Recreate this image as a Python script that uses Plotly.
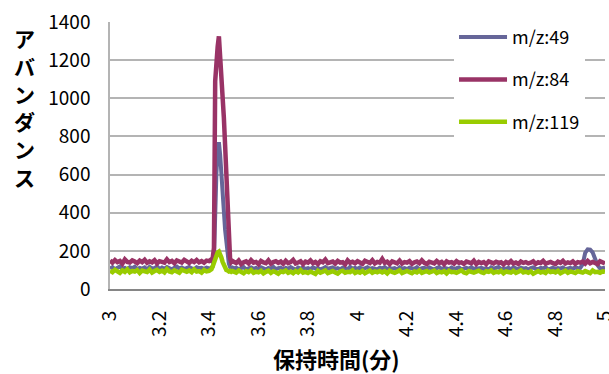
import numpy as np
import plotly.graph_objects as go

# Sampling grid: 0.01 min steps, refined to 0.005 min across the 3.4-3.5 min peak
time_min = np.round(np.concatenate([
    np.arange(3.00, 3.40 - 1e-9, 0.01),
    np.arange(3.40, 3.50 - 1e-9, 0.005),
    np.arange(3.50, 5.00 + 1e-9, 0.01),
]), 3)

series_names = ["m/z:49", "m/z:84", "m/z:119"]
series_colors = ["#666699", "#993366", "#99CC00"]

# m/z 49 abundance
mz49 = [
    108, 115, 104, 112, 118, 106, 110, 103, 114, 109, 117, 105, 111, 107, 113, 102, 116, 108, 110, 119,
    104, 112, 106, 115, 109, 103, 111, 117, 107, 113, 105, 110, 116, 108, 102, 114, 109, 111, 106, 112,
    # 3.400 - 3.495
    110, 107, 113, 118, 160, 420, 610, 715, 770, 705, 625, 525, 410, 310, 235, 175, 135, 115, 109, 112,
    # 3.50 - 5.00
    108, 112, 104, 110, 115, 103, 109, 113, 106, 111,
    105, 114, 108, 102, 111, 107, 116, 104, 109, 112,
    103, 110, 106, 115, 108, 101, 112, 107, 113, 105,
    109, 104, 114, 107, 111, 102, 108, 115, 106, 110,
    113, 105, 109, 103, 112, 108, 104, 116, 107, 111,
    106, 113, 102, 109, 114, 105, 110, 107, 103, 112,
    108, 115, 104, 111, 106, 109, 102, 113, 107, 110,
    104, 112, 108, 105, 114, 103, 109, 111, 106, 113,
    107, 102, 110, 115, 105, 111, 108, 104, 112, 106,
    109, 113, 103, 108, 111, 106, 114, 104, 110, 107,
    112, 105, 109, 102, 113, 107, 110, 115, 104, 108,
    106, 111, 103, 114, 108, 105, 112, 107, 110, 102,
    109, 113, 106, 104, 111, 108, 115, 103, 107, 112,
    105, 110, 107, 113, 104, 109, 111, 106, 114, 108,
    110, 130, 190, 208, 206, 192, 160, 125, 108, 112,
    111,
]

# m/z 84 abundance
mz84 = [
    150, 138, 152, 141, 147, 133, 155, 142, 139, 150, 144, 136, 149, 141, 153, 137, 145, 140, 151, 134,
    146, 143, 138, 156, 141, 147, 135, 150, 142, 139, 153, 144, 137, 148, 141, 152, 140, 146, 138, 149,
    # 3.400 - 3.495
    146, 151, 143, 162, 215, 1090, 1205, 1270, 1325, 1235, 1135, 1040, 900, 755, 600, 420, 235, 162, 141, 147,
    # 3.50 - 5.00
    143, 136, 149, 131, 140, 145, 134, 151, 138, 142,
    130, 147, 139, 135, 150, 133, 141, 146, 137, 144,
    132, 148, 136, 141, 153, 134, 139, 145, 130, 143,
    138, 150, 135, 142, 131, 146, 140, 154, 136, 139,
    144, 133, 147, 138, 141, 129, 150, 137, 143, 135,
    146, 139, 132, 148, 140, 136, 151, 134, 142, 138,
    158, 137, 143, 131, 145, 140, 135, 149, 133, 141,
    138, 146, 132, 140, 144, 135, 150, 137, 131, 143,
    139, 134, 147, 136, 142, 130, 145, 138, 141, 133,
    146, 137, 140, 132, 144, 139, 135, 148, 131, 142,
    136, 141, 130, 145, 138, 134, 143, 137, 140, 129,
    142, 135, 146, 133, 139, 131, 144, 137, 141, 134,
    138, 145, 132, 140, 136, 147, 133, 139, 142, 135,
    131, 143, 137, 148, 134, 140, 136, 145, 132, 141,
    138, 144, 133, 147, 135, 142, 139, 131, 146, 137,
    134,
]

# m/z 119 abundance
mz119 = [
    96, 88, 101, 92, 85, 98, 90, 103, 87, 95, 91, 99, 84, 97, 93, 89, 102, 86, 94, 100,
    90, 96, 87, 104, 92, 88, 98, 93, 85, 101, 95, 90, 97, 88, 103, 91, 94, 86, 99, 92,
    # 3.400 - 3.495
    95, 99, 104, 118, 140, 162, 180, 192, 196, 185, 165, 142, 122, 108, 100, 97, 92, 95, 90, 94,
    # 3.50 - 5.00
    92, 86, 97, 89, 83, 94, 88, 99, 85, 91,
    87, 95, 82, 90, 96, 84, 93, 88, 80, 92,
    89, 97, 85, 91, 83, 94, 87, 99, 86, 90,
    84, 92, 88, 79, 95, 86, 91, 97, 83, 89,
    94, 87, 81, 92, 96, 85, 90, 88, 98, 84,
    91, 86, 95, 83, 89, 97, 85, 92, 88, 94,
    87, 93, 82, 96, 89, 85, 91, 98, 84, 90,
    95, 88, 83, 92, 87, 97, 85, 90, 94, 86,
    89, 96, 84, 91, 87, 93, 82, 95, 88, 90,
    85, 92, 98, 87, 83, 94, 89, 86, 91, 96,
    88, 84, 93, 90, 97, 85, 91, 87, 95, 82,
    92, 89, 86, 95, 84, 90, 98, 87, 91, 85,
    93, 80, 88, 94, 86, 91, 84, 97, 89, 92,
    87, 95, 83, 90, 96, 85, 92, 88, 84, 93,
    89, 86, 94, 91, 83, 97, 88, 90, 85, 92,
    90,
]

x_tick_vals = [3.0, 3.2, 3.4, 3.6, 3.8, 4.0, 4.2, 4.4, 4.6, 4.8, 5.0]
x_tick_text = ["3", "3.2", "3.4", "3.6", "3.8", "4", "4.2", "4.4", "4.6", "4.8", "5"]
y_tick_vals = [0, 200, 400, 600, 800, 1000, 1200, 1400]

y_title_chars = ["ア", "バ", "ン", "ダ", "ン", "ス"]
x_title = "保持時間(分)"

FONT = "Noto Sans CJK JP, Noto Sans, sans-serif"

fig = go.Figure()
for name, color, width, values in zip(series_names, series_colors, [4, 4.5, 4.5], [mz49, mz84, mz119]):
    fig.add_trace(go.Scatter(
        x=time_min, y=values, mode="lines", name=name,
        line=dict(color=color, width=width),
        legendgroup=name,
    ))

# Vertical axis title, one character per row (plot area spans y = 22..289 px)
plot_top, plot_h = 22, 267
annotations = []
for k, ch in enumerate(y_title_chars):
    y_px = 38 + 27.8 * k
    annotations.append(dict(
        text="<b>" + ch + "</b>", xref="paper", yref="paper",
        x=(24 - 110) / 495, y=1 - (y_px - plot_top) / plot_h,
        xanchor="center", yanchor="middle", showarrow=False,
        font=dict(size=21, family=FONT, color="black"),
    ))
annotations.append(dict(
    text="<b>" + x_title + "</b>", xref="paper", yref="paper",
    x=(336 - 110) / 495, y=-(358 - 289) / plot_h,
    xanchor="center", yanchor="middle", showarrow=False,
    font=dict(size=22, family=FONT, color="black"),
))

fig.update_layout(
    width=609, height=374,
    margin=dict(l=110, r=4, t=22, b=85, autoexpand=False),
    paper_bgcolor="white", plot_bgcolor="white",
    font=dict(family=FONT, color="black", size=19),
    showlegend=True,
    legend=dict(
        x=0.695, xanchor="left", y=1.012, yanchor="top",
        bgcolor="white", borderwidth=0,
        font=dict(size=18, family=FONT),
        tracegroupgap=16, itemwidth=48,
    ),
    xaxis=dict(
        range=[3, 5], automargin=False,
        tickmode="array", tickvals=x_tick_vals, ticktext=x_tick_text,
        showgrid=False, zeroline=False,
        showline=True, linecolor="#868686", linewidth=2,
        ticks="", tickangle=-90, ticklabelstandoff=12,
        ticklabeloverflow="allow",
        tickfont=dict(size=19),
    ),
    yaxis=dict(
        range=[0, 1400], automargin=False,
        tickmode="array", tickvals=y_tick_vals,
        showgrid=True, gridcolor="#b4b4b4", gridwidth=2,
        zeroline=False,
        showline=True, linecolor="#b4b4b4", linewidth=1.5,
        ticks="", ticklabelstandoff=14,
        tickfont=dict(size=19),
    ),
    annotations=annotations,
)

fig.write_html("out.html")
